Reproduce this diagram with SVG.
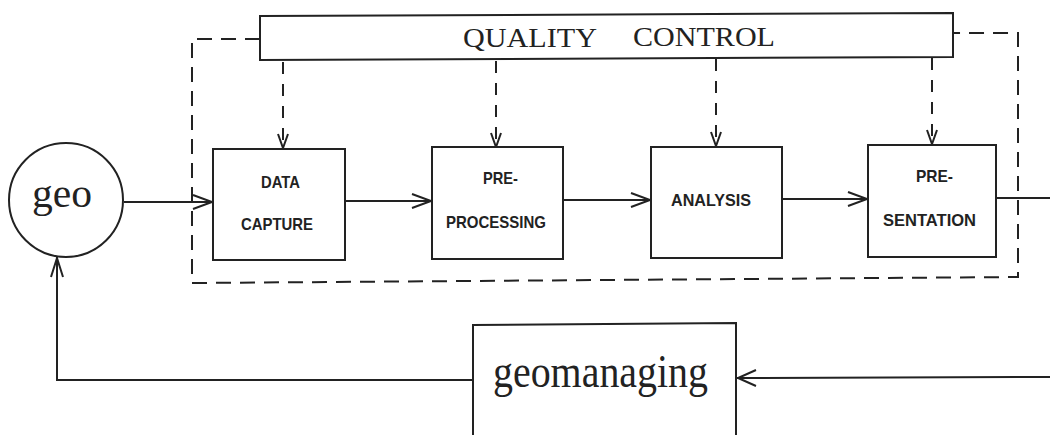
<svg xmlns="http://www.w3.org/2000/svg" width="1050" height="435" viewBox="0 0 1050 435">
  <style>
    .ln { fill: none; stroke: #222; stroke-width: 2; stroke-linecap: square; }
    .dash { fill: none; stroke: #222; stroke-width: 2; stroke-dasharray: 15 9; }
    .vdash { fill: none; stroke: #222; stroke-width: 2; stroke-dasharray: 12 10; }
    .box { fill: #fff; stroke: #222; stroke-width: 2; }
    .head { fill: none; stroke: #222; stroke-width: 2; stroke-linejoin: miter; }
    .serif { font-family: "Liberation Serif", "Times New Roman", serif; fill: #222; }
    .lab { font-family: "Liberation Sans Narrow", "Liberation Sans", Arial, sans-serif; font-weight: bold; font-size: 17px; fill: #222; }
  </style>
  <rect width="1050" height="435" fill="#fff"/>

  <!-- quality-control boundary (dashed) -->
  <g id="boundary">
    <path class="dash" d="M260,39 H192 V283 L1018,277 V33 H953"/>
  </g>

  <!-- connectors -->
  <g id="connectors">
    <!-- main flow -->
    <line class="ln" x1="125" y1="202" x2="212" y2="202"/>
    <path class="head" d="M193,195 L212,202 L193,209"/>
    <line class="ln" x1="346" y1="201" x2="431" y2="201"/>
    <path class="head" d="M412,194 L431,201 L412,208"/>
    <line class="ln" x1="564" y1="200" x2="650" y2="200"/>
    <path class="head" d="M631,193 L650,200 L631,207"/>
    <line class="ln" x1="783" y1="199" x2="867" y2="199"/>
    <path class="head" d="M848,192 L867,199 L848,206"/>
    <line class="ln" x1="997" y1="198" x2="1050" y2="198"/>

    <!-- quality-control feeds -->
    <line class="vdash" x1="283" y1="62" x2="283" y2="146"/>
    <path class="head" d="M278,134 L283,148 L288,134"/>
    <line class="vdash" x1="496" y1="61" x2="496" y2="145"/>
    <path class="head" d="M491,133 L496,147 L501,133"/>
    <line class="vdash" x1="716" y1="59" x2="716" y2="144"/>
    <path class="head" d="M711,132 L716,146 L721,132"/>
    <line class="vdash" x1="932" y1="58" x2="932" y2="142"/>
    <path class="head" d="M927,130 L932,144 L937,130"/>

    <!-- feedback loop -->
    <line class="ln" x1="1050" y1="377" x2="738" y2="378"/>
    <path class="head" d="M756,370 L738,378 L756,386"/>
    <path class="ln" d="M472,380 H57 V258"/>
    <path class="head" d="M51,277 L57,258 L63,277"/>
  </g>

  <!-- quality control bar -->
  <g id="quality-control">
    <polygon class="box" points="260,16 953,13 953,57 260,60"/>
    <text class="serif" x="463" y="47" font-size="28" textLength="134" lengthAdjust="spacingAndGlyphs">QUALITY</text>
    <text class="serif" x="633" y="46" font-size="28" textLength="142" lengthAdjust="spacingAndGlyphs">CONTROL</text>
  </g>

  <g id="geo">
    <circle class="box" cx="66" cy="200" r="57"/>
    <text class="serif" x="32" y="207" font-size="40" textLength="60" lengthAdjust="spacingAndGlyphs">geo</text>
  </g>

  <g id="data-capture">
    <rect class="box" x="213" y="149" width="132" height="111"/>
    <text class="lab" x="261" y="188" textLength="39" lengthAdjust="spacingAndGlyphs">DATA</text>
    <text class="lab" x="241" y="230" textLength="72" lengthAdjust="spacingAndGlyphs">CAPTURE</text>
  </g>

  <g id="pre-processing">
    <rect class="box" x="432" y="147" width="131" height="112"/>
    <text class="lab" x="483" y="184" textLength="35" lengthAdjust="spacingAndGlyphs">PRE-</text>
    <text class="lab" x="446" y="228" textLength="100" lengthAdjust="spacingAndGlyphs">PROCESSING</text>
  </g>

  <g id="analysis">
    <rect class="box" x="651" y="147" width="131" height="111"/>
    <text class="lab" x="671" y="206" textLength="80" lengthAdjust="spacingAndGlyphs">ANALYSIS</text>
  </g>

  <g id="presentation">
    <rect class="box" x="868" y="145" width="128" height="112"/>
    <text class="lab" x="916" y="182" textLength="37" lengthAdjust="spacingAndGlyphs">PRE-</text>
    <text class="lab" x="883" y="226" textLength="93" lengthAdjust="spacingAndGlyphs">SENTATION</text>
  </g>

  <g id="geomanaging">
    <path class="ln" d="M473,440 V325 L736,323 V440"/>
    <text class="serif" x="493" y="387" font-size="46" textLength="215" lengthAdjust="spacingAndGlyphs">geomanaging</text>
  </g>
</svg>
